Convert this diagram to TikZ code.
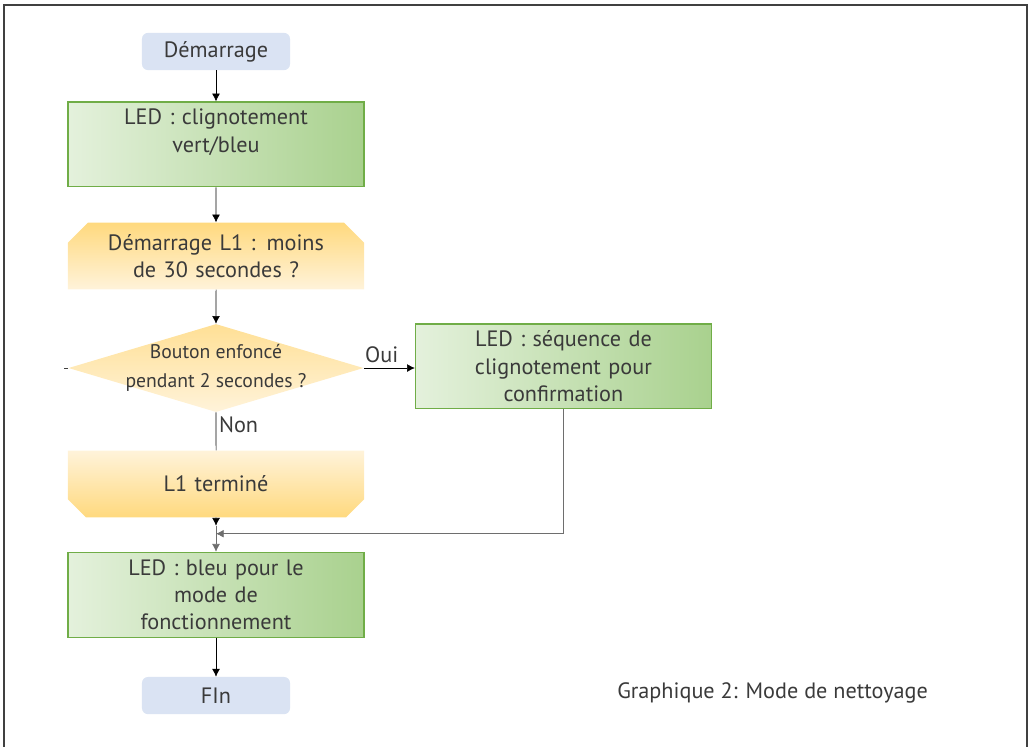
\documentclass[tikz,border=0pt]{standalone}
\usepackage{fontspec}
\setmainfont{PT Sans}
\usetikzlibrary{shapes.geometric}
\usetikzlibrary{shapes.misc}
\usetikzlibrary{positioning}
\usetikzlibrary{arrows.meta}

\definecolor{termfill}{HTML}{DAE3F3}
\definecolor{actline}{HTML}{70AD47}
\definecolor{actlight}{HTML}{E4F1DC}
\definecolor{actdark}{HTML}{A9D18E}
\definecolor{testlight}{HTML}{FFF3DA}
\definecolor{testdark}{HTML}{FFD97E}
\definecolor{txtgray}{HTML}{3A3A3A}
\definecolor{linegray}{HTML}{6E6E6E}
\definecolor{framegray}{HTML}{404040}

\begin{document}
\begin{tikzpicture}[
    x=0.025cm, y=-0.025cm,
    >={Latex[length=5.5pt,width=5.5pt]},
    every node/.style={
        font=\fontsize{15.8}{19.5}\selectfont,
        text=txtgray
    },
    terminal/.style={
        minimum width=3.7cm, minimum height=0.93cm,
        rounded corners=0.15cm,
        fill=termfill
    },
    action/.style={
        minimum width=7.4cm, minimum height=2.12cm,
        text width=6.8cm,
        align=center,
        rectangle,
        draw=actline, line width=0.8pt,
        left color=actlight, right color=actdark
    },
    check/.style={
        minimum width=7.4cm, minimum height=1.67cm,
        text width=6.8cm,
        align=center,
        chamfered rectangle,
        chamfered rectangle xsep=0.25cm,
        chamfered rectangle ysep=0.25cm,
        inner sep=0pt
    },
    decision/.style={
        diamond,
        minimum width=7.375cm, minimum height=2.2cm,
        inner sep=0pt,
        top color=testdark!75!testlight, bottom color=testlight
    },
    decisiontext/.style={
        font=\fontsize{14}{20.5}\selectfont,
        align=center
    }
]
\useasboundingbox (0,0) rectangle (1033,747);
\draw[framegray, line width=1.5pt] (4,747) -- (4,5) -- (1027,5) -- (1027,747);

\node (start)      [terminal] at (216,51.5) {Démarrage};
\node (ledBlink)   [action, below=0.775cm of start]    {LED : clignotement\\vert/bleu\\~};
\node (startL1)    [check, below=0.875cm of ledBlink,
                    chamfered rectangle corners={north west,north east},
                    top color=testdark, bottom color=testlight] {Démarrage L1 : moins\\de 30 secondes ?};
\node (button)     [decision, below=0.85cm of startL1] {};
\node (buttonText) [decisiontext] at (button)          {Bouton enfoncé\\pendant 2 secondes ?};
\node (ledConfirm) [action, right=1.275cm of button, yshift=0.04cm] {LED : séquence de\\clignotement pour\\confirmation};
\node (l1Done)     [check, below=0.95cm of button,
                    chamfered rectangle corners={south west,south east},
                    top color=testlight, bottom color=testdark] {L1 terminé};
\node (ledBlue)    [action, below=0.85cm of l1Done]    {LED : bleu pour le\\mode de\\fonctionnement};
\node (stop)       [terminal, below=0.975cm of ledBlue] {FIn};

\node (caption) [anchor=west, inner sep=0pt] at (617,693) {Graphique 2: Mode de nettoyage};

\coordinate (mergeTop) at ([yshift=-0.2cm]l1Done.south);
\coordinate (merge)    at ([yshift=-0.4cm]l1Done.south);

\draw[->] (start) -- (ledBlink);
\draw[->] (ledBlink) -- (startL1);
\draw[->] (startL1) -- (button);
\draw[->] (button.east) -- node (oui) [above, pos=0.35] {Oui} (button.east -| ledConfirm.west);
\draw (button) -- node (non) [right, pos=0.32, inner sep=2pt] {Non} (l1Done);
\draw[framegray] (button.west) -- ([xshift=-3pt]button.west);
\draw[->] (l1Done) -- (mergeTop);
\draw[->, linegray] (mergeTop) -- (ledBlue);
\draw[->, linegray] (ledConfirm) |- (merge);
\draw[->] (ledBlue) -- (stop);
\end{tikzpicture}
\end{document}
